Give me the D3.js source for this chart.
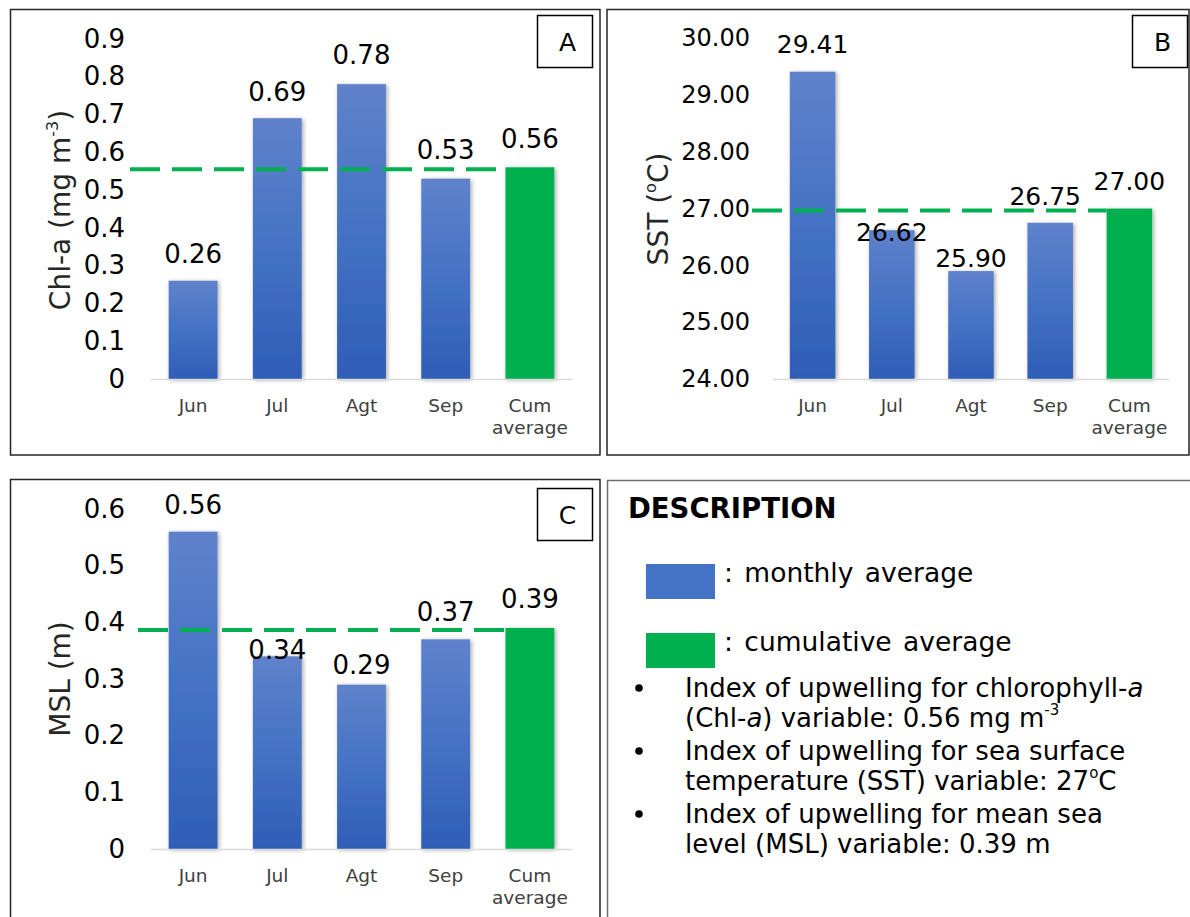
<!DOCTYPE html>
<html>
<head>
<meta charset="utf-8">
<script src="https://cdn.jsdelivr.net/npm/d3@7"></script>
<style>
  html, body { margin: 0; padding: 0; background: #ffffff; }
  svg { display: block; font-family: "DejaVu Sans", Verdana, sans-serif; }
</style>
</head>
<body>
<svg id="chart" width="1190" height="917"></svg>
<script>
// ---- data -------------------------------------------------------------
const months = ["Jun", "Jul", "Agt", "Sep", "Cum average"];
const chlValues = [0.26, 0.69, 0.78, 0.53, 0.56];   // Chl-a, mg m^-3
const sstValues = [29.41, 26.62, 25.90, 26.75, 27.00]; // SST, °C
const mslValues = [0.56, 0.34, 0.29, 0.37, 0.39];   // MSL, m
const chlTicks = [0, 0.1, 0.2, 0.3, 0.4, 0.5, 0.6, 0.7, 0.8, 0.9];
const sstTicks = [24, 25, 26, 27, 28, 29, 30];
const mslTicks = [0, 0.1, 0.2, 0.3, 0.4, 0.5, 0.6];

// the last category holds the cumulative average = upwelling index
const cumIndex = months.length - 1;

const svg = d3.select("#chart");
const BLUE = "#4472c4", GREEN = "#00b050";

// ---- defs: bar gradient + soft shadow ---------------------------------
const defs = svg.append("defs");
const grad = defs.append("linearGradient").attr("id", "barBlue")
  .attr("x1", 0).attr("y1", 0).attr("x2", 0).attr("y2", 1);
grad.append("stop").attr("offset", "0%").attr("stop-color", "#5f82cb");
grad.append("stop").attr("offset", "50%").attr("stop-color", "#4472c4");
grad.append("stop").attr("offset", "100%").attr("stop-color", "#2f5eb6");
const sh = defs.append("filter").attr("id", "barShadow")
  .attr("x", "-20%").attr("y", "-5%").attr("width", "150%").attr("height", "115%");
sh.append("feDropShadow").attr("dx", 1.5).attr("dy", 1).attr("stdDeviation", 2)
  .attr("flood-color", "#000").attr("flood-opacity", 0.35);

// ---- panel frames -----------------------------------------------------
const frames = [
  { x: 10.5, y: 9.5, w: 589.5, h: 445.5, c: "#262626" },
  { x: 607, y: 9.5, w: 582, h: 445.5, c: "#262626" },
  { x: 10.5, y: 479.5, w: 589.5, h: 460, c: "#262626" },
  { x: 607.5, y: 480.5, w: 600, h: 460, c: "#6e6e6e" }
];
svg.selectAll("rect.frame").data(frames).join("rect").attr("class", "frame")
  .attr("x", d => d.x).attr("y", d => d.y).attr("width", d => d.w).attr("height", d => d.h)
  .attr("fill", "none").attr("stroke", d => d.c).attr("stroke-width", 1.5);

// ---- one bar panel ----------------------------------------------------
function barPanel(cfg) {
  const g = svg.append("g");
  const x = d3.scaleBand().domain(months).range([cfg.x0, cfg.x1])
    .paddingInner(cfg.pad).paddingOuter(cfg.pad / 2);
  const y = d3.scaleLinear().domain(cfg.domain).range([cfg.base, cfg.top]);

  // y axis: labels only
  const ax = g.append("g").attr("transform", `translate(${cfg.x0},0)`)
    .call(d3.axisLeft(y).tickValues(cfg.ticks).tickFormat(cfg.fmt)
      .tickSize(0).tickPadding(cfg.tickPad));
  ax.select(".domain").remove();
  ax.selectAll("text").attr("font-size", cfg.tickSize).attr("fill", "#000")
    .attr("font-family", "DejaVu Sans, Verdana, sans-serif");

  // axis title (rotated)
  const t = g.append("text")
    .attr("transform", `translate(${cfg.titleX},${cfg.titleY}) rotate(-90)`)
    .attr("text-anchor", "middle").attr("font-size", 28).attr("fill", "#262626");
  cfg.title.forEach(p => {
    const s = t.append("tspan").text(p.t);
    if (p.sup) s.attr("font-size", 16).attr("dy", -12);
    if (p.after) s.attr("dy", 12);
  });

  // bars
  const bars = g.append("g").attr("filter", "url(#barShadow)");
  bars.selectAll("rect").data(cfg.values).join("rect")
    .attr("x", (d, i) => x(months[i]))
    .attr("width", x.bandwidth())
    .attr("y", d => y(d))
    .attr("height", d => y(cfg.domain[0]) - y(d))
    .attr("fill", (d, i) => i === cumIndex ? GREEN : "url(#barBlue)");

  // baseline
  g.append("line").attr("x1", cfg.x0).attr("x2", cfg.x1)
    .attr("y1", cfg.base + 0.5).attr("y2", cfg.base + 0.5)
    .attr("stroke", "#d9d9d9").attr("stroke-width", 1.5);

  // dashed index line up to the cumulative bar
  const idx = cfg.values[cumIndex];
  g.append("line").attr("x1", cfg.lineStart).attr("x2", x(months[cumIndex]))
    .attr("y1", y(idx) + 2).attr("y2", y(idx) + 2)
    .attr("stroke", GREEN).attr("stroke-width", 4).attr("stroke-dasharray", "30 12");

  // value labels
  g.selectAll("text.val").data(cfg.values).join("text").attr("class", "val")
    .attr("x", (d, i) => x(months[i]) + x.bandwidth() / 2 + (cfg.shiftX[i] || 0))
    .attr("y", (d, i) => y(d) - cfg.lift[i])
    .attr("text-anchor", "middle").attr("font-size", cfg.valSize).attr("fill", "#000")
    .text(d => cfg.valFmt(d));

  // category labels
  months.forEach(m => {
    const words = m === "Cum average" ? ["Cum", "average"] : [m];
    words.forEach((w, k) => {
      g.append("text").attr("x", x(m) + x.bandwidth() / 2).attr("y", cfg.base + 33 + k * 22)
        .attr("text-anchor", "middle").attr("font-size", 18.5).attr("fill", "#404040").text(w);
    });
  });

  // panel letter box
  g.append("rect").attr("x", cfg.box[0]).attr("y", cfg.box[1]).attr("width", 55).attr("height", 52)
    .attr("fill", "#fff").attr("stroke", "#000").attr("stroke-width", 1.5);
  g.append("text").attr("x", cfg.box[0] + 30).attr("y", cfg.box[1] + 35)
    .attr("text-anchor", "middle").attr("font-size", 25).attr("fill", "#000").text(cfg.letter);
}

const f1 = v => v === 0 ? "0" : d3.format(".1f")(v);

barPanel({
  values: chlValues, ticks: chlTicks, domain: [0, 0.9], fmt: f1, valFmt: d3.format(".2f"),
  x0: 151, x1: 572, pad: 0.42, base: 379, top: 38.8, tickPad: 26, tickSize: 26, valSize: 26,
  titleX: 70, titleY: 210, lineStart: 130, box: [537.5, 15.5], letter: "A",
  lift: [18, 17, 20, 20, 19], shiftX: [],
  title: [{ t: "Chl-a (mg m" }, { t: "-3", sup: true }, { t: ")", after: true }]
});

barPanel({
  values: sstValues, ticks: sstTicks, domain: [24, 30], fmt: d3.format(".2f"), valFmt: d3.format(".2f"),
  x0: 773, x1: 1169, pad: 0.425, base: 379, top: 38.2, tickPad: 23, tickSize: 24, valSize: 25,
  titleX: 668, titleY: 209, lineStart: 752, box: [1132.5, 15.5], letter: "B",
  lift: [19, -11, 4, 18, 19], shiftX: [0, 0, 0, -5, 0],
  title: [{ t: "SST (" }, { t: "o", sup: true }, { t: "C)", after: true }]
});

barPanel({
  values: mslValues, ticks: mslTicks, domain: [0, 0.6], fmt: f1, valFmt: d3.format(".2f"),
  x0: 151, x1: 572, pad: 0.42, base: 849, top: 509, tickPad: 26, tickSize: 26, valSize: 26,
  titleX: 70, titleY: 679, lineStart: 138, box: [537.5, 488.5], letter: "C",
  lift: [18, -3, 11, 18, 20], shiftX: [],
  title: [{ t: "MSL (m)" }]
});

// ---- description panel ------------------------------------------------
const d = svg.append("g");
d.append("text").attr("x", 628).attr("y", 518).attr("font-size", 27.5).attr("font-weight", "bold")
  .attr("fill", "#000").text("DESCRIPTION");

const legendItems = [
  { color: BLUE, label: ": monthly average", y: 564 },
  { color: GREEN, label: ": cumulative average", y: 633 }
];
legendItems.forEach(it => {
  d.append("rect").attr("x", 646).attr("y", it.y).attr("width", 69).attr("height", 35).attr("fill", it.color);
  d.append("text").attr("x", 724).attr("y", it.y + 18).attr("font-size", 26.5).attr("fill", "#000")
    .attr("word-spacing", 3).text(it.label);
});

const fmtIdx = d3.format("~g");
const bulletLines = [
  [{ t: "Index of upwelling for chlorophyll-" }, { t: "a", i: true }],
  [{ t: "(Chl-" }, { t: "a", i: true }, { t: ") variable: " + d3.format(".2f")(chlValues[cumIndex]) + " mg m" }, { t: "-3", sup: true }],
  [{ t: "Index of upwelling for sea surface" }],
  [{ t: "temperature (SST) variable: " + fmtIdx(sstValues[cumIndex]) }, { t: "o", sup: true }, { t: "C", after: true }],
  [{ t: "Index of upwelling for mean sea" }],
  [{ t: "level (MSL) variable: " + d3.format(".2f")(mslValues[cumIndex]) + " m" }]
];
const lineY = [697, 727, 760, 790, 823, 853];
bulletLines.forEach((parts, k) => {
  const t = d.append("text").attr("x", 685).attr("y", lineY[k]).attr("font-size", 26).attr("fill", "#000");
  parts.forEach(p => {
    const s = t.append("tspan").text(p.t);
    if (p.i) s.attr("font-style", "italic");
    if (p.sup) s.attr("font-size", 15).attr("dy", -12);
    if (p.after) s.attr("dy", 12);
  });
  if (k % 2 === 0) {
    d.append("circle").attr("cx", 639).attr("cy", lineY[k] - 9).attr("r", 3.8).attr("fill", "#000");
  }
});
</script>
</body>
</html>
